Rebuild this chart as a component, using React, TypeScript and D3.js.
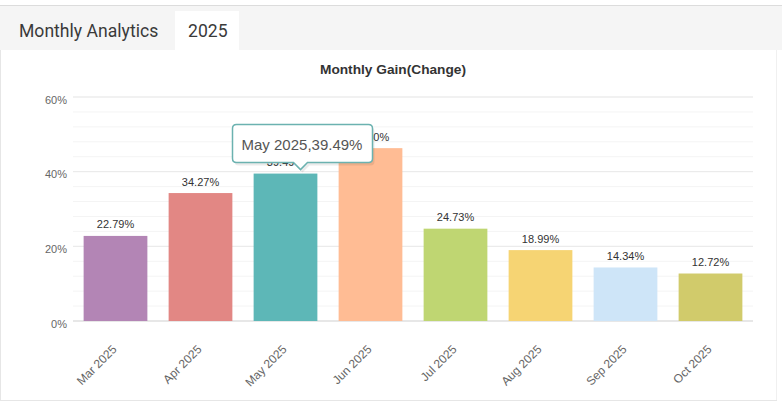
import React from "react";
import * as d3 from "d3";

const months = ["Mar 2025", "Apr 2025", "May 2025", "Jun 2025", "Jul 2025", "Aug 2025", "Sep 2025", "Oct 2025"];
const gains = [22.79, 34.27, 39.49, 46.3, 24.73, 18.99, 14.34, 12.72];
const barColors = ["#b385b5", "#e28784", "#5db7b7", "#ffbc94", "#bfd672", "#f6d473", "#cee5f8", "#d1cb6b"];
const yTicks = [0, 20, 40, 60];
const minorTicks = d3.range(0, 61, 4);
const tooltipIndex = 2;

const W = 782;
const H = 407;
const left = 73;
const right = 753;
const top = 97;
const bottom = 321;

export default function App() {
  const x = d3.scaleBand<string>().domain(months).range([left, right]).paddingInner(0.25).paddingOuter(0.125);
  const y = d3.scaleLinear().domain([0, 60]).range([bottom, top]);
  const tipCx = (x(months[tooltipIndex]) as number) + x.bandwidth() / 2 + 15;
  const tipY = y(gains[tooltipIndex]) - 4;
  const boxW = 140;
  const boxH = 38;
  const bx = tipCx - boxW / 2 + 2;
  const by = tipY - 7 - boxH;
  const r = 4;
  const tipPath = `M${bx + r},${by} H${bx + boxW - r} Q${bx + boxW},${by} ${bx + boxW},${by + r} V${by + boxH - r} Q${bx + boxW},${by + boxH} ${bx + boxW - r},${by + boxH} H${tipCx + 7} L${tipCx},${tipY} L${tipCx - 7},${by + boxH} H${bx + r} Q${bx},${by + boxH} ${bx},${by + boxH - r} V${by + r} Q${bx},${by} ${bx + r},${by} Z`;

  return (
    <div style={{ position: "absolute", left: 0, top: 0 }}>
      <svg width={W} height={H} style={{ display: "block" }} fontFamily="Arial, 'Liberation Sans', sans-serif">
        <rect x={0} y={0} width={W} height={H} fill="#fff" />
        <rect x={0} y={5} width={W} height={45} fill="#f5f5f5" />
        <line x1={0} x2={W} y1={5.5} y2={5.5} stroke="#dcdcdc" />
        <rect x={175} y={11} width={64} height={40} fill="#fff" />
        <text x={19} y={37} fontFamily="Roboto, sans-serif" fontSize={17.6} fill="#3a3a3a">Monthly Analytics</text>
        <text x={188} y={37} fontFamily="Roboto, sans-serif" fontSize={17.6} fill="#3a3a3a">2025</text>
        <line x1={0.5} x2={0.5} y1={50} y2={400} stroke="#e6e6e6" />
        <line x1={776.5} x2={776.5} y1={50} y2={400} stroke="#f0f0f0" />
        <line x1={0} x2={777} y1={400.5} y2={400.5} stroke="#e6e6e6" />

        <text x={393} y={74} textAnchor="middle" fontSize={13.7} fontWeight="bold" fill="#333">Monthly Gain(Change)</text>

        {minorTicks.map((t) => (
          <line key={"m" + t} x1={left} x2={right} y1={y(t)} y2={y(t)} stroke="#f4f4f4" />
        ))}
        {yTicks.map((t) => (
          <line key={"g" + t} x1={left} x2={right} y1={y(t)} y2={y(t)} stroke={t === 0 ? "#e0e0e0" : "#e9e9e9"} strokeWidth={t === 0 ? 1.5 : 1} />
        ))}
        {yTicks.map((t) => (
          <text key={"yl" + t} x={67} y={y(t) + 6.5} textAnchor="end" fontSize={11} fill="#666">{t}%</text>
        ))}

        {months.map((m, i) => (
          <rect key={m} x={x(m)} y={y(gains[i])} width={x.bandwidth()} height={bottom - y(gains[i])} fill={barColors[i]} />
        ))}
        {months.map((m, i) => (
          <text key={"v" + m} x={(x(m) as number) + x.bandwidth() / 2} y={y(gains[i]) - 7.5} textAnchor="middle" fontSize={11} fill="#333">
            {gains[i].toFixed(2)}%
          </text>
        ))}
        {months.map((m) => {
          const cx = (x(m) as number) + x.bandwidth() / 2 + 2;
          return (
            <text key={"x" + m} transform={`translate(${cx},${350}) rotate(-45)`} textAnchor="end" fontSize={12} fill="#666">
              {m}
            </text>
          );
        })}

        <path d={tipPath} transform="translate(2,3)" fill="rgba(0,0,0,0.08)" />
        <path d={tipPath} fill="#fff" stroke="#6bb2b0" strokeWidth={1.5} />
        <text x={bx + 9} y={by + 25} fontSize={15} fill="#555">
          {months[tooltipIndex]},{gains[tooltipIndex].toFixed(2)}%
        </text>
      </svg>
    </div>
  );
}
